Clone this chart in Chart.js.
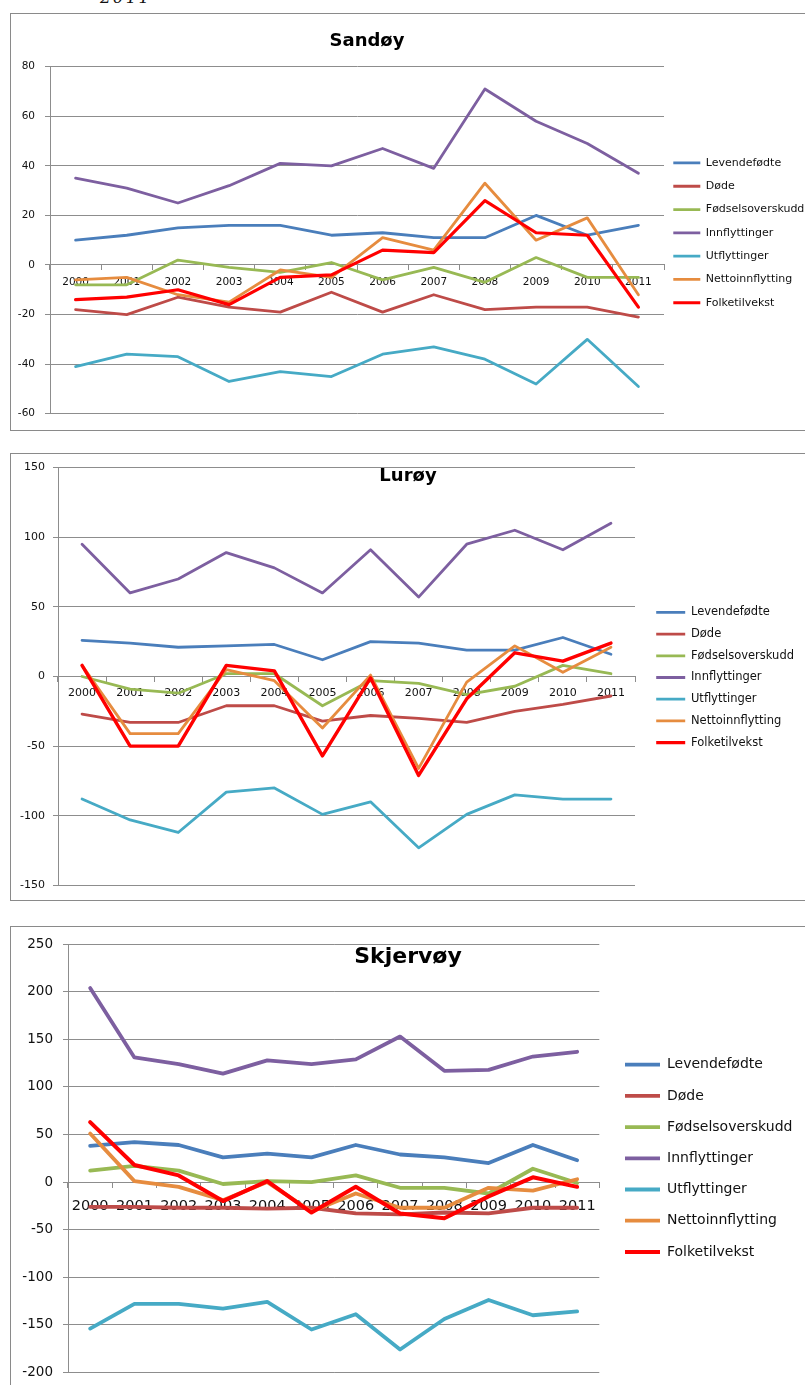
<!DOCTYPE html>
<html>
<head>
<meta charset="utf-8">
<script src="https://cdn.jsdelivr.net/npm/chart.js@4.4.1/dist/chart.umd.min.js"></script>
<style>
  body { margin: 0; width: 805px; height: 1385px; overflow: hidden; background: #fff; position: relative; }
  .frame { position: absolute; border: 1px solid #8a8a8a; box-sizing: border-box; }
  .frame canvas { position: absolute; left: -1px; top: -1px; }
  .cap { position: absolute; left: 100px; top: -13px; font: italic 17px "DejaVu Serif"; letter-spacing: 2px; color: #111; }
</style>
</head>
<body>
<div class="cap">2011</div>
<div class="frame" style="left:10px; top:13px; width:805px; height:418px;"><canvas id="sandoy" width="795" height="417"></canvas></div>
<div class="frame" style="left:10px; top:453px; width:805px; height:448px;"><canvas id="luroy" width="795" height="447"></canvas></div>
<div class="frame" style="left:10px; top:926px; width:805px; height:480px;"><canvas id="skjervoy" width="795" height="470"></canvas></div>
<script>
const years = ['2000', '2001', '2002', '2003', '2004', '2005', '2006', '2007', '2008', '2009', '2010', '2011'];
const seriesNames = ['Levendefødte', 'Døde', 'Fødselsoverskudd', 'Innflyttinger', 'Utflyttinger', 'Nettoinnflytting', 'Folketilvekst'];
const seriesColors = ['#4A7EBB', '#BE4B48', '#98B954', '#7D5FA0', '#46AAC5', '#E68C3F', '#FF0000'];

// Sandøy
const sandoyBorn = [10, 12, 15, 16, 16, 12, 13, 11, 11, 20, 12, 16];
const sandoyDead = [-18, -20, -13, -17, -19, -11, -19, -12, -18, -17, -17, -21];
const sandoyBirthSurplus = [-8, -8, 2, -1, -3, 1, -6, -1, -7, 3, -5, -5];
const sandoyInMoves = [35, 31, 25, 32, 41, 40, 47, 39, 71, 58, 49, 37];
const sandoyOutMoves = [-41, -36, -37, -47, -43, -45, -36, -33, -38, -48, -30, -49];
const sandoyNetMoves = [-6, -5, -12, -15, -2, -5, 11, 6, 33, 10, 19, -12];
const sandoyGrowth = [-14, -13, -10, -16, -5, -4, 6, 5, 26, 13, 12, -17];
const sandoyTicks = { min: -60, max: 80, step: 20 };

// Lurøy
const luroyBorn = [26, 24, 21, 22, 23, 12, 25, 24, 19, 19, 28, 16];
const luroyDead = [-27, -33, -33, -21, -21, -32, -28, -30, -33, -25, -20, -14];
const luroyBirthSurplus = [0, -9, -12, 2, 2, -21, -3, -5, -13, -7, 8, 2];
const luroyInMoves = [95, 60, 70, 89, 78, 60, 91, 57, 95, 105, 91, 110];
const luroyOutMoves = [-88, -103, -112, -83, -80, -99, -90, -123, -99, -85, -88, -88];
const luroyNetMoves = [8, -41, -41, 5, -3, -37, 1, -66, -4, 22, 3, 21];
const luroyGrowth = [8, -50, -50, 8, 4, -57, -1, -71, -16, 17, 11, 24];
const luroyTicks = { min: -150, max: 150, step: 50 };

// Skjervøy
const skjervoyBorn = [38, 42, 39, 26, 30, 26, 39, 29, 26, 20, 39, 23];
const skjervoyDead = [-26, -26, -27, -27, -28, -27, -33, -34, -32, -33, -27, -27];
const skjervoyBirthSurplus = [12, 17, 12, -2, 1, 0, 7, -6, -6, -12, 14, -1];
const skjervoyInMoves = [204, 131, 124, 114, 128, 124, 129, 153, 117, 118, 132, 137];
const skjervoyOutMoves = [-154, -128, -128, -133, -126, -155, -139, -176, -144, -124, -140, -136];
const skjervoyNetMoves = [51, 1, -5, -19, 0, -31, -12, -27, -27, -6, -9, 3];
const skjervoyGrowth = [63, 18, 7, -20, 1, -32, -5, -33, -38, -15, 5, -5];
const skjervoyTicks = { min: -200, max: 250, step: 50 };

const gridColor = '#8d8d8d';
const textColor = '#111';

// title drawn over the plot, like the Excel charts
const chartTitle = {
  id: 'chartTitle',
  afterDraw(chart, args, opts) {
    const ctx = chart.ctx;
    ctx.save();
    ctx.font = 'bold ' + opts.size + 'px "DejaVu Sans"';
    ctx.fillStyle = '#000';
    ctx.textAlign = 'center';
    ctx.textBaseline = 'middle';
    ctx.fillText(opts.text, opts.x, opts.y);
    ctx.restore();
  }
};

// shift the legend block and give the labels room (legend clips to its box)
const legendNudge = {
  id: 'legendNudge',
  afterLayout(chart, args, opts) {
    const lg = chart.legend;
    if (!lg) return;
    lg.left += opts.dx; lg.right += opts.dx + 60; lg.width += 60;
    lg.top += opts.dy; lg.bottom += opts.dy;
  }
};

function makeChart(id, title, series, ticks, s) {
  const ctx = document.getElementById(id).getContext('2d');
  return new Chart(ctx, {
    type: 'line',
    data: {
      labels: years,
      datasets: series.map((values, i) => ({
        label: seriesNames[i],
        data: values,
        borderColor: seriesColors[i],
        backgroundColor: seriesColors[i],
        borderWidth: i === 6 ? s.redWidth : s.lineWidth,
        pointRadius: 0,
        tension: 0,
        borderJoinStyle: 'round',
        borderCapStyle: 'round',
        order: 7 - i
      }))
    },
    options: {
      responsive: false,
      animation: false,
      events: [],
      layout: { padding: { left: 0, top: s.top, right: s.padRight, bottom: s.bottom } },
      scales: {
        x: {
          position: { y: 0 },
          offset: true,
          grid: { display: true, drawOnChartArea: false, drawTicks: true, tickLength: 5, color: gridColor, offset: true },
          border: { display: true, color: gridColor },
          ticks: { autoSkip: false, maxRotation: 0, color: textColor, padding: s.xPad,
                   font: { family: 'DejaVu Sans', size: s.xFont } }
        },
        y: {
          min: ticks.min,
          max: ticks.max,
          afterFit: scale => { scale.width = s.yWidth; },
          grid: { color: gridColor, tickLength: 5 },
          border: { display: true, color: gridColor },
          ticks: { stepSize: ticks.step, color: textColor, padding: s.yPad,
                   font: { family: 'DejaVu Sans', size: s.yFont } }
        }
      },
      plugins: {
        tooltip: { enabled: false },
        legend: {
          position: 'right',
          maxWidth: s.legendWidth,
          labels: {
            usePointStyle: true,
            pointStyle: 'line',
            pointStyleWidth: s.legendLine,
            padding: s.legendPad,
            color: textColor,
            font: { family: 'DejaVu Sans', size: s.legendFont },
            sort: (a, b) => a.datasetIndex - b.datasetIndex
          }
        },
        chartTitle: { text: title, size: s.titleSize, x: s.titleX, y: s.titleY },
        legendNudge: { dx: s.legendDx, dy: s.legendDy }
      }
    },
    plugins: [chartTitle, legendNudge]
  });
}

// Chart 1 - Sandøy
makeChart('sandoy', 'Sandøy',
  [sandoyBorn, sandoyDead, sandoyBirthSurplus, sandoyInMoves, sandoyOutMoves, sandoyNetMoves, sandoyGrowth],
  sandoyTicks,
  { top: 53.7, bottom: 15, padRight: 0, yWidth: 40, yPad: 10, yFont: 10.5, xFont: 10.5, xPad: 6,
    lineWidth: 2.8, redWidth: 3.2, legendWidth: 141, legendLine: 27, legendPad: 12.3, legendFont: 11,
    legendDx: -3, legendDy: -8, titleSize: 18, titleX: 357, titleY: 28 });

// Chart 2 - Lurøy
makeChart('luroy', 'Lurøy',
  [luroyBorn, luroyDead, luroyBirthSurplus, luroyInMoves, luroyOutMoves, luroyNetMoves, luroyGrowth],
  luroyTicks,
  { top: 13.7, bottom: 11.7, padRight: 20, yWidth: 48, yPad: 8, yFont: 11, xFont: 11, xPad: 5,
    lineWidth: 2.8, redWidth: 3.4, legendWidth: 150, legendLine: 29, legendPad: 10.2, legendFont: 11.5,
    legendDx: 11, legendDy: 0, titleSize: 18, titleX: 398, titleY: 23 });

// Chart 3 - Skjervøy
makeChart('skjervoy', 'Skjervøy',
  [skjervoyBorn, skjervoyDead, skjervoyBirthSurplus, skjervoyInMoves, skjervoyOutMoves, skjervoyNetMoves, skjervoyGrowth],
  skjervoyTicks,
  { top: 18.3, bottom: 23.7, padRight: 25.7, yWidth: 58, yPad: 10, yFont: 13.5, xFont: 14.5, xPad: 10,
    lineWidth: 3.8, redWidth: 4, legendWidth: 180, legendLine: 35, legendPad: 17.2, legendFont: 14,
    legendDx: 8.5, legendDy: 0, titleSize: 22, titleX: 398, titleY: 31 });
</script>
</body>
</html>
